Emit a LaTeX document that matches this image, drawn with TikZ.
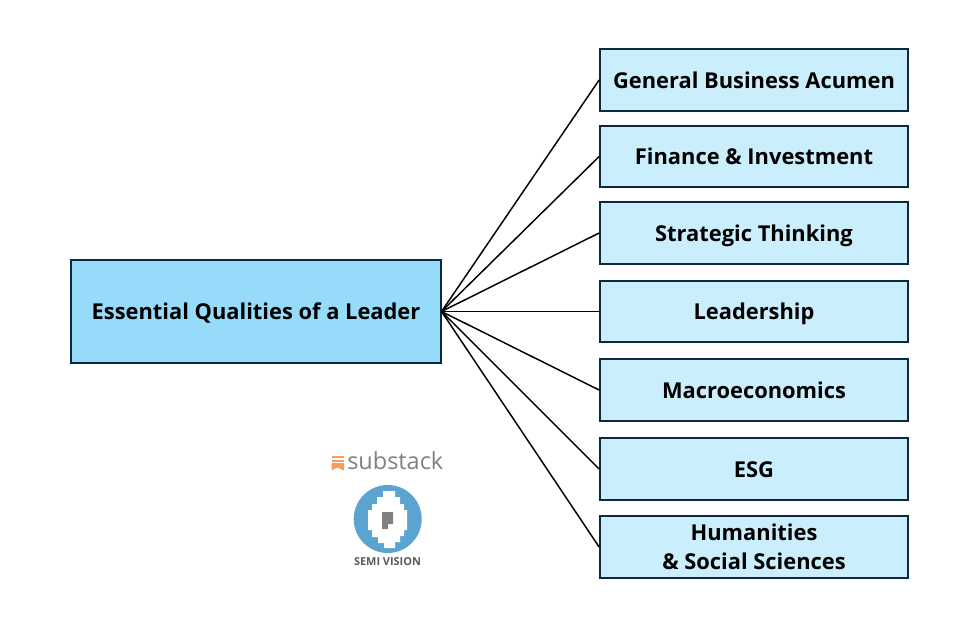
\documentclass[tikz,border=0pt]{standalone}
\usepackage{fontspec}
\setmainfont{Open Sans}
\usepackage{tikz}
\definecolor{edgeblue}{HTML}{0E2841}
\definecolor{rootblue}{HTML}{97DBFA}
\definecolor{leafblue}{HTML}{CAEEFB}
\definecolor{logoblue}{HTML}{5BA3D0}
\definecolor{logogray}{HTML}{808080}
\definecolor{logoorange}{HTML}{F79B5B}
\tikzstyle{oneline} = [text height=15.5pt, text depth=3.5pt]
\tikzstyle{rootbox} = [rectangle, draw=edgeblue, fill=rootblue, line width=1.3pt, text centered, oneline, minimum width=277pt, minimum height=77pt, font=\bfseries\fontsize{16.4}{20}\selectfont]
\tikzstyle{leafbox} = [rectangle, draw=edgeblue, fill=leafblue, line width=1.3pt, align=center, minimum width=231pt, minimum height=46pt, inner sep=0pt, font=\bfseries\fontsize{16.4}{21.75}\selectfont]
\tikzstyle{link} = [draw=black, line width=1.1pt]

\begin{document}
\begin{tikzpicture}[x=0.75pt, y=-0.75pt]
    \useasboundingbox (0,0) rectangle (961,629);
    \node[rootbox] (root) at (256,311.5) {Essential Qualities of a Leader};

    \node[leafbox, oneline] (acumen) at (754,80) {General Business Acumen};
    \node[leafbox, oneline] (finance) at (754,156.5) {Finance \& Investment};
    \node[leafbox, oneline] (strategy) at (754,233) {Strategic Thinking};
    \node[leafbox, oneline] (leadership) at (754,311.5) {Leadership};
    \node[leafbox, oneline] (macro) at (754,390) {Macroeconomics};
    \node[leafbox, oneline] (esg) at (754,469) {ESG};
    \node[leafbox] (humanities) at (754,547) {Humanities\\\& Social Sciences};

    \foreach \leaf in {acumen,finance,strategy,leadership,macro,esg,humanities}
        \draw[link] (root.east) -- (\leaf.west);

    % logos
    \fill[logoorange] (331.5,455.5) rectangle (344,458);
    \fill[logoorange] (331.5,459.5) rectangle (344,461.5);
    \fill[logoorange] (331.5,463) -- (344,463) -- (344,470.5) -- (337.7,467.5) -- (331.5,470.5) -- cycle;
    \node[text=logogray, inner sep=0pt, anchor=west, font=\fontsize{17.6}{20}\selectfont] (substack) at (347,461) {substack};

    \fill[logoblue] (387.7,519) circle (34);
    \fill[white] (383,491) -- (395,491) -- (395,497) -- (400,497) -- (400,504) -- (404,504) -- (404,510)
        -- (407,510) -- (407,530) -- (404,530) -- (404,536) -- (400,536) -- (400,542) -- (395,542) -- (395,548)
        -- (384,548) -- (384,543) -- (378,543) -- (378,537) -- (372,537) -- (372,530) -- (368,530)
        -- (368,510) -- (372,510) -- (372,504) -- (377,504) -- (377,497) -- (383,497) -- cycle;
    \fill[logogray] (382,512) -- (393,512) -- (393,524) -- (388,524) -- (388,529) -- (382,529) -- cycle;
    \node[text=logogray!70!black, inner sep=0pt, font=\bfseries\fontsize{8.2}{10}\selectfont] (semivision) at (387.5,562) {SEMI VISION};
\end{tikzpicture}
\end{document}
